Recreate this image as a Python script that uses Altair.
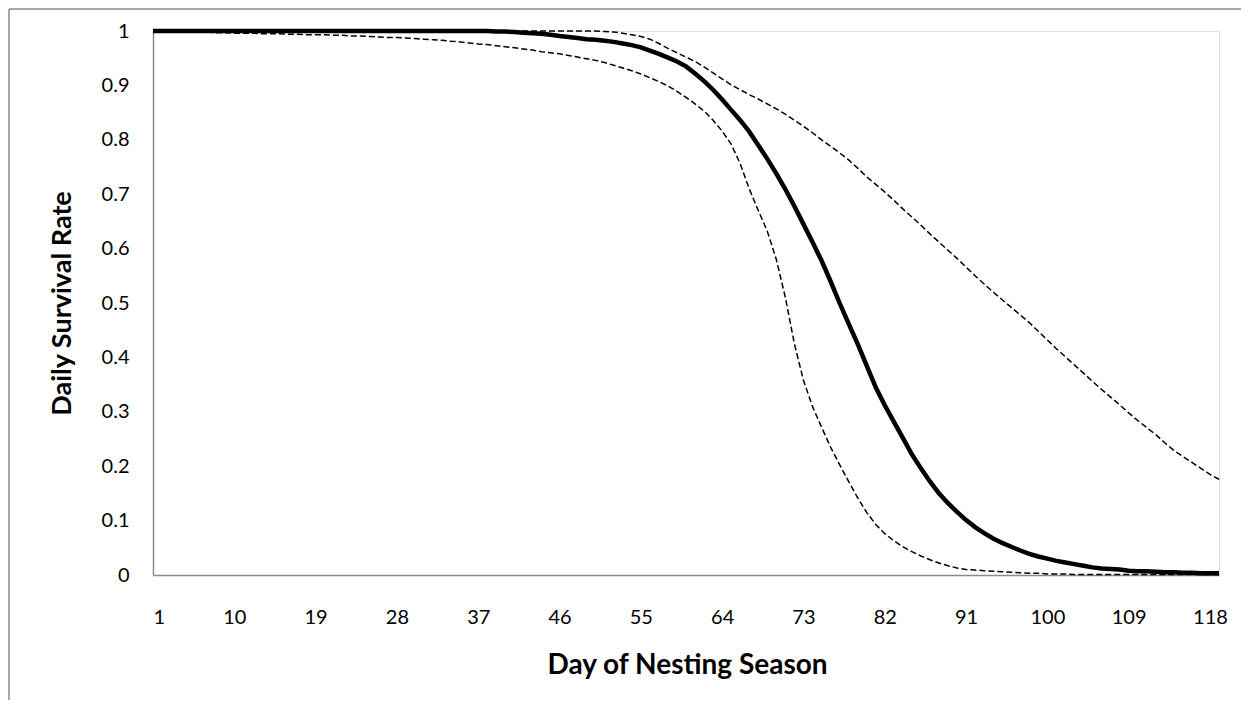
import altair as alt
import pandas as pd

days = list(range(1, 120))

mean_dsr = [
    1.000, 1.000, 1.000, 1.000, 1.000, 1.000, 1.000, 1.000, 1.000, 1.000,
    1.000, 1.000, 1.000, 1.000, 1.000, 1.000, 1.000, 1.000, 1.000, 1.000,
    1.000, 1.000, 1.000, 1.000, 1.000, 1.000, 1.000, 1.000, 1.000, 1.000,
    1.000, 1.000, 1.000, 1.000, 1.000, 1.000, 1.000, 1.000, 0.999, 0.999,
    0.998, 0.997, 0.996, 0.995, 0.993, 0.991, 0.989, 0.987, 0.985, 0.984,
    0.982, 0.980, 0.977, 0.974, 0.970, 0.964, 0.958, 0.951, 0.944, 0.935,
    0.922, 0.908, 0.892, 0.874, 0.855, 0.836, 0.815, 0.790, 0.765, 0.738,
    0.709, 0.678, 0.645, 0.612, 0.578, 0.540, 0.500, 0.462, 0.425, 0.385,
    0.345, 0.312, 0.282, 0.252, 0.222, 0.196, 0.172, 0.150, 0.132, 0.116,
    0.101, 0.088, 0.077, 0.067, 0.059, 0.052, 0.045, 0.039, 0.034, 0.030,
    0.026, 0.023, 0.020, 0.017, 0.014, 0.012, 0.011, 0.010, 0.008, 0.007,
    0.007, 0.006, 0.005, 0.005, 0.004, 0.004, 0.003, 0.003, 0.003,
]

upper_ci = [
    1.000, 1.000, 1.000, 1.000, 1.000, 1.000, 1.000, 1.000, 1.000, 1.000,
    1.000, 1.000, 1.000, 1.000, 1.000, 1.000, 1.000, 1.000, 1.000, 1.000,
    1.000, 1.000, 1.000, 1.000, 1.000, 1.000, 1.000, 1.000, 1.000, 1.000,
    1.000, 1.000, 1.000, 1.000, 1.000, 1.000, 1.000, 1.000, 1.000, 1.000,
    1.000, 1.000, 1.000, 1.000, 1.000, 1.000, 1.000, 1.000, 1.000, 1.000,
    0.999, 0.998, 0.996, 0.993, 0.990, 0.985, 0.977, 0.968, 0.960, 0.952,
    0.944, 0.934, 0.923, 0.912, 0.901, 0.892, 0.883, 0.875, 0.866, 0.857,
    0.847, 0.836, 0.825, 0.813, 0.800, 0.788, 0.776, 0.763, 0.748, 0.732,
    0.718, 0.704, 0.689, 0.673, 0.658, 0.643, 0.627, 0.612, 0.597, 0.582,
    0.566, 0.550, 0.535, 0.520, 0.506, 0.492, 0.478, 0.464, 0.448, 0.432,
    0.416, 0.401, 0.386, 0.371, 0.356, 0.341, 0.327, 0.313, 0.298, 0.284,
    0.271, 0.258, 0.243, 0.229, 0.218, 0.207, 0.196, 0.185, 0.176,
]

lower_ci = [
    1.000, 1.000, 0.999, 0.999, 0.999, 0.998, 0.998, 0.997, 0.997, 0.996,
    0.996, 0.996, 0.995, 0.995, 0.995, 0.994, 0.994, 0.993, 0.993, 0.993,
    0.992, 0.992, 0.991, 0.991, 0.990, 0.989, 0.988, 0.988, 0.987, 0.986,
    0.985, 0.984, 0.983, 0.981, 0.980, 0.978, 0.976, 0.975, 0.973, 0.971,
    0.969, 0.967, 0.965, 0.962, 0.960, 0.958, 0.955, 0.952, 0.949, 0.946,
    0.942, 0.937, 0.932, 0.927, 0.921, 0.914, 0.907, 0.899, 0.889, 0.878,
    0.866, 0.853, 0.836, 0.816, 0.792, 0.756, 0.710, 0.670, 0.632, 0.580,
    0.510, 0.425, 0.358, 0.310, 0.272, 0.235, 0.203, 0.172, 0.142, 0.115,
    0.093, 0.076, 0.063, 0.052, 0.043, 0.035, 0.028, 0.022, 0.017, 0.013,
    0.010, 0.009, 0.008, 0.007, 0.006, 0.005, 0.004, 0.003, 0.003, 0.002,
    0.002, 0.002, 0.001, 0.001, 0.001, 0.001, 0.001, 0.001, 0.001, 0.001,
    0.001, 0.001, 0.001, 0.001, 0.001, 0.001, 0.001, 0.001, 0.001,
]

x_tick_values = [1, 10, 19, 28, 37, 46, 55, 64, 73, 82, 91, 100, 109, 118]
y_tick_values = [0, 0.1, 0.2, 0.3, 0.4, 0.5, 0.6, 0.7, 0.8, 0.9, 1.0]

df = pd.DataFrame({"day": days, "mean": mean_dsr, "lower": lower_ci, "upper": upper_ci})

FONT = "Lato"
AXIS_GRAY = "#8a8a8a"
LABEL_SIZE = 20

x_enc = alt.X(
    "day:Q",
    scale=alt.Scale(domain=[1, 119], nice=False, zero=False),
    axis=alt.Axis(
        title="Day of Nesting Season",
        values=x_tick_values,
        grid=False,
        ticks=False,
        tickSize=0,
        labelPadding=32,
        labelFontSize=LABEL_SIZE,
        labelFont=FONT,
        labelColor="#000000",
        labelBaseline="top",
        domainColor=AXIS_GRAY,
        domainWidth=1.5,
        titleFont=FONT,
        titleFontSize=28,
        titleFontWeight="bold",
        titleColor="#000000",
        titleX=534,
        titleY=98,
        titleAlign="center",
        titleBaseline="alphabetic",
    ),
)

def y_enc(field):
    return alt.Y(
        f"{field}:Q",
        scale=alt.Scale(domain=[0, 1], nice=False),
        axis=alt.Axis(
            title="Daily Survival Rate",
            values=y_tick_values,
            format="~g",
            grid=False,
            ticks=False,
            tickSize=0,
            labelPadding=24,
            labelFontSize=LABEL_SIZE,
            labelFont=FONT,
            labelColor="#000000",
            domainColor=AXIS_GRAY,
            domainWidth=1.5,
            titleFont=FONT,
            titleFontSize=27,
            titleFontWeight="bold",
            titleColor="#000000",
            titleAngle=-90,
            titleX=-83,
            titleY=272,
            titleAlign="center",
            titleBaseline="alphabetic",
        ),
    )

base = alt.Chart(df)

lower_line = base.mark_line(color="black", strokeWidth=1.5, strokeDash=[6, 3]).encode(
    x=x_enc, y=y_enc("lower")
)
upper_line = base.mark_line(color="black", strokeWidth=1.5, strokeDash=[6, 3]).encode(
    x=x_enc, y=y_enc("upper")
)
mean_line = base.mark_line(color="black", strokeWidth=4.5).encode(
    x=x_enc, y=y_enc("mean")
)

frame_data = alt.Data(values=[{"k": 0}])
frame_left = alt.Chart(frame_data).mark_rule(color=AXIS_GRAY, strokeWidth=1.5).encode(
    x=alt.value(-144), y=alt.value(-22), y2=alt.value(700)
)
frame_top = alt.Chart(frame_data).mark_rule(color=AXIS_GRAY, strokeWidth=1.5).encode(
    x=alt.value(-144), x2=alt.value(1200), y=alt.value(-22)
)

chart = alt.layer(frame_left, frame_top, lower_line, upper_line, mean_line).properties(
    width=1066,
    height=544,
    autosize=alt.AutoSizeParams(type="none"),
    padding={"left": 145, "top": 23, "right": 22, "bottom": 125},
).configure_view(stroke=None).configure(background="white")

chart.save("out.html", embed_options={"renderer": "svg", "actions": False})
